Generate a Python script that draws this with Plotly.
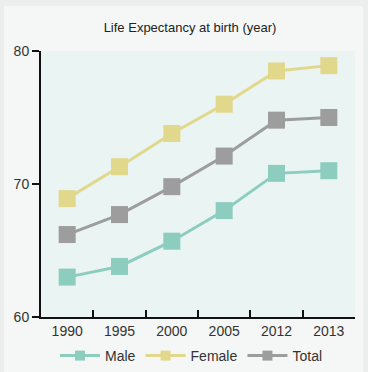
import plotly.graph_objects as go

years = ["1990", "1995", "2000", "2005", "2012", "2013"]
male = [63.0, 63.8, 65.7, 68.0, 70.8, 71.0]
female = [68.9, 71.3, 73.8, 76.0, 78.5, 78.9]
total = [66.2, 67.7, 69.8, 72.1, 74.8, 75.0]

series = [
    ("Male", male, "#8dcdc0"),
    ("Female", female, "#e2d88c"),
    ("Total", total, "#9d9d9d"),
]

# the card sits 4px from the left and 6px from the top of the page
CARD_X, CARD_Y = 4, 6
W, H = 359, 366
ML, MR, MT, MB = 37, 8, 45, 55

fig = go.Figure()
for name, vals, color in series:
    fig.add_trace(
        go.Scatter(
            x=years,
            y=vals,
            name=name,
            mode="lines+markers",
            line={"color": color, "width": 3},
            marker={"symbol": "square", "size": 17, "color": color},
            showlegend=False,
        )
    )
    # legend-only entry with a smaller swatch
    fig.add_trace(
        go.Scatter(
            x=[None],
            y=[None],
            name=name,
            mode="lines+markers",
            line={"color": color, "width": 3},
            marker={"symbol": "square", "size": 10, "color": color},
        )
    )

fig.update_layout(
    width=W,
    height=H,
    margin={"l": ML, "r": MR, "t": MT, "b": MB, "autoexpand": False},
    paper_bgcolor="#f5f7f6",
    plot_bgcolor="#eaf4f2",
    font={"family": "Liberation Sans, Arial, sans-serif", "color": "#333333", "size": 14},
    title={
        "text": "Life Expectancy at birth (year)",
        "x": (190 - CARD_X) / W,
        "xanchor": "center",
        "y": 1 - (27 - CARD_Y) / H,
        "yanchor": "middle",
        "font": {"size": 13, "color": "#222222"},
    },
    showlegend=True,
    legend={
        "orientation": "h",
        "xref": "container",
        "x": (55 - CARD_X) / W,
        "xanchor": "left",
        "yref": "container",
        "y": (H - (356 - CARD_Y)) / H,
        "yanchor": "middle",
        "font": {"size": 14, "color": "#333333"},
        "itemwidth": 40,
        "bgcolor": "rgba(0,0,0,0)",
    },
    xaxis={
        "type": "category",
        "showgrid": False,
        "zeroline": False,
        "showline": True,
        "linecolor": "#111111",
        "linewidth": 2,
        "ticks": "inside",
        "tickson": "boundaries",
        "ticklen": 7,
        "tickwidth": 1.5,
        "tickcolor": "#111111",
        "range": [-0.5, 5.5],
    },
    yaxis={
        "range": [60, 80],
        "tickvals": [60, 70, 80],
        "showgrid": False,
        "zeroline": False,
        "showline": True,
        "linecolor": "#111111",
        "linewidth": 2,
        "ticks": "outside",
        "ticklen": 7,
        "tickwidth": 2,
        "tickcolor": "#111111",
    },
)

page_style = (
    f"document.body.style.margin = '{CARD_Y}px 0 0 {CARD_X}px';"
    "document.body.style.background = '#eceeed';"
)
fig.write_html("out.html", config={"displayModeBar": False}, post_script=page_style)
